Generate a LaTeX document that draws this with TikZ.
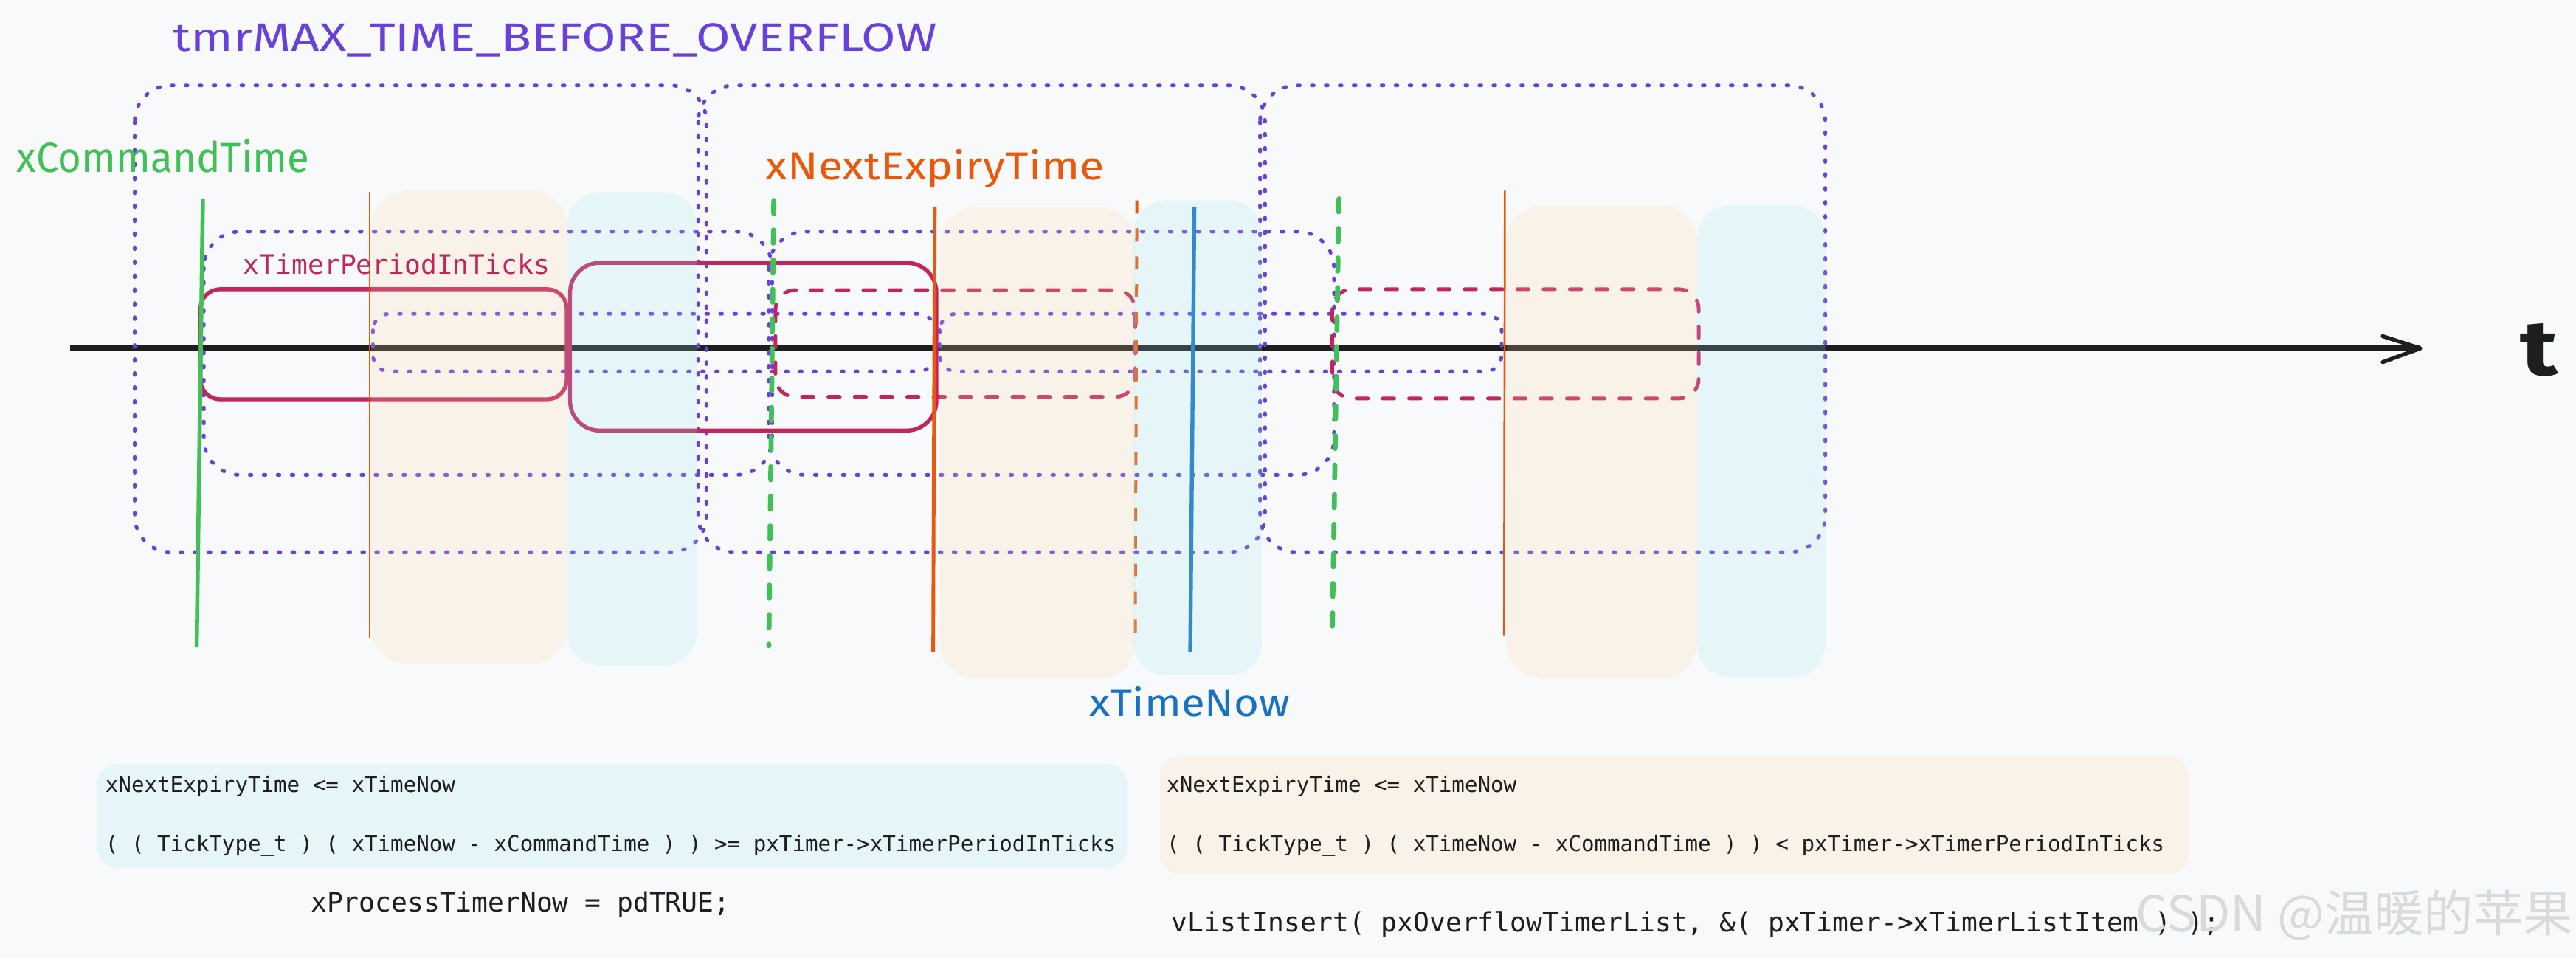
\documentclass[tikz,border=0pt]{standalone}
\usepackage{fontspec}
\usepackage{graphicx}
\setmainfont{Fira Sans}
\newfontfamily\codefont{DejaVu Sans Mono}
\newfontfamily\handfont{Fira Sans}
\newfontfamily\cjkfont{Noto Sans CJK SC}
\definecolor{bgcol}{HTML}{F8F9FA}
\definecolor{viol}{HTML}{6741D9}
\definecolor{crim}{HTML}{C2255C}
\definecolor{grn}{HTML}{40C057}
\definecolor{org}{HTML}{E8590C}
\definecolor{blu}{HTML}{1971C2}
\definecolor{peach}{HTML}{FFD8A8}
\definecolor{cyanf}{HTML}{99E9F2}
\definecolor{ink}{HTML}{1E1E1E}
\definecolor{wmark}{HTML}{DADADA}
\begin{document}
\begin{tikzpicture}[x=1pt,y=-1pt,
  bigdot/.style={draw=viol, line width=2.2pt, line cap=round, dash pattern=on 1.2pt off 7.3pt, rounded corners=22pt},
  smalldot/.style={draw=viol, line width=2.2pt, line cap=round, dash pattern=on 1.2pt off 7.3pt, rounded corners=10pt},
  crimsolid/.style={draw=crim, line width=2.4pt, rounded corners=12pt},
  crimdash/.style={draw=crim, line width=2.2pt, line cap=round, dash pattern=on 7pt off 9pt, rounded corners=12pt},
  greenline/.style={draw=grn, line width=2.5pt},
  greendash/.style={draw=grn, line width=3pt, line cap=round, dash pattern=on 8pt off 10pt},
  orangethin/.style={draw=org, line width=1.2pt},
  orangeline/.style={draw=org, line width=2.2pt},
  orangedash/.style={draw=org, line width=1.8pt, dash pattern=on 8pt off 9pt},
  blueline/.style={draw=blu, line width=2.4pt},
  peachfill/.style={fill=peach, fill opacity=0.2, rounded corners=22pt},
  cyanfill/.style={fill=cyanf, fill opacity=0.2, rounded corners=20pt},
  boxpeach/.style={fill=peach, fill opacity=0.2, rounded corners=12pt},
  boxcyan/.style={fill=cyanf, fill opacity=0.2, rounded corners=12pt},
  codesmall/.style={anchor=base west, inner sep=0pt, text=ink, font=\codefont\fontsize{13.1pt}{15pt}\selectfont},
  codebig/.style={anchor=base west, inner sep=0pt, text=ink, font=\codefont\fontsize{16.3pt}{19pt}\selectfont},
  handlabel/.style={anchor=base west, inner sep=0pt}
]
\useasboundingbox (0,0) rectangle (1568,583);
\fill[bgcol] (0,0) rectangle (1568,583);

% timeline
\coordinate (tl0) at (42.5,212);
\coordinate (tl1) at (1473.3,212);
\coordinate (arU) at (1450.3,204.6);
\coordinate (arD) at (1450.3,220.4);
\draw[ink, line width=3.2pt] (tl0) -- (tl1);
\draw[ink, line width=2.4pt, line cap=round, line join=round] (arU) -- (tl1) -- (arD);

% big dotted periods
\draw[bigdot] (82,52) rectangle (430,336);
\draw[bigdot] (425,52) rectangle (770,336);
\draw[bigdot] (767,52) rectangle (1111,336);
% medium dotted
\draw[bigdot] (124,141) rectangle (470,289);
\draw[bigdot] (468,141) rectangle (812,289);
% small dotted
\draw[smalldot] (227,191) rectangle (569,226);
\draw[smalldot] (572,191) rectangle (914,226);

% crimson rects
\draw[crimsolid] (122,176) rectangle (345,243);
\draw[crimsolid, rounded corners=18pt] (347,160) rectangle (570,262);
\draw[crimdash] (472,176.5) rectangle (691,241.5);
\draw[crimdash] (811,176) rectangle (1034,242.5);

% vertical markers
\coordinate (g1a) at (123.5,121); \coordinate (g1b) at (119.7,394);
\coordinate (o1a) at (225,117);   \coordinate (o1b) at (225,388);
\coordinate (g2a) at (471,122);   \coordinate (g2b) at (468,393);
\coordinate (o2a) at (569,126);   \coordinate (o2b) at (568,397);
\coordinate (o3a) at (692,122);   \coordinate (o3b) at (691,389);
\coordinate (b1a) at (727,126);   \coordinate (b1b) at (724.5,397);
\coordinate (g3a) at (815,121);   \coordinate (g3b) at (811,383);
\coordinate (o4a) at (916,116);   \coordinate (o4b) at (915.5,387);
\draw[greenline] (g1a) -- (g1b);
\draw[orangethin] (o1a) -- (o1b);
\draw[greendash] (g2a) -- (g2b);
\draw[orangeline] (o2a) -- (o2b);
\draw[orangedash] (o3a) -- (o3b);
\draw[blueline] (b1a) -- (b1b);
\draw[greendash] (g3a) -- (g3b);
\draw[orangethin] (o4a) -- (o4b);

% shaded regions
\fill[peachfill] (226,116) rectangle (345,404);
\fill[cyanfill] (345,117) rectangle (424,405);
\fill[peachfill] (572,126) rectangle (691,413);
\fill[cyanfill] (690,122) rectangle (768,411);
\fill[peachfill] (917,125) rectangle (1033,413);
\fill[cyanfill] (1033,125) rectangle (1111,412);

% labels
\node[handlabel, text=viol] (title) at (105,31) {\resizebox{465pt}{17pt}{\handfont tmrMAX\_TIME\_BEFORE\_OVERFLOW}};
\node[handlabel, text=grn] (cmd) at (10,105) {\resizebox{178pt}{20pt}{\handfont xCommandTime}};
\node[handlabel, text=org] (nxt) at (466,109.5) {\resizebox{206pt}{18.5pt}{\handfont xNextExpiryTime}};
\node[handlabel, text=blu] (now) at (663,435.7) {\resizebox{122pt}{18pt}{\handfont xTimeNow}};
\node[handlabel, text=ink] (tlab) at (1534,228.6) {\resizebox{23pt}{31.5pt}{\handfont\bfseries t}};
\node[anchor=base west, inner sep=0pt, text=crim, font=\codefont\fontsize{16.3pt}{19pt}\selectfont] (period) at (148,167) {xTimerPeriodInTicks};

% bottom condition boxes
\fill[boxcyan] (59,465) rectangle (686,528);
\fill[boxpeach] (706,460) rectangle (1332,532);
\node[codesmall] (c1) at (64,482) {xNextExpiryTime <= xTimeNow};
\node[codesmall] (c2) at (64,518) {( ( TickType\_t ) ( xTimeNow - xCommandTime ) ) >= pxTimer->xTimerPeriodInTicks};
\node[codebig] (c3) at (189,555) {xProcessTimerNow = pdTRUE;};
\node[codesmall] (p1) at (710,482) {xNextExpiryTime <= xTimeNow};
\node[codesmall] (p2) at (710,518) {( ( TickType\_t ) ( xTimeNow - xCommandTime ) ) < pxTimer->xTimerPeriodInTicks};
\node[codebig] (p3) at (713,567) {vListInsert( pxOverflowTimerList, \&( pxTimer->xTimerListItem ) );};

% watermark (overlaps the code line, as in the reference)
\node[anchor=base west, inner sep=0pt, text=wmark] (wm) at (1300,567) {\resizebox{266pt}{!}{\cjkfont CSDN @温暖的苹果}};
\end{tikzpicture}
\end{document}
